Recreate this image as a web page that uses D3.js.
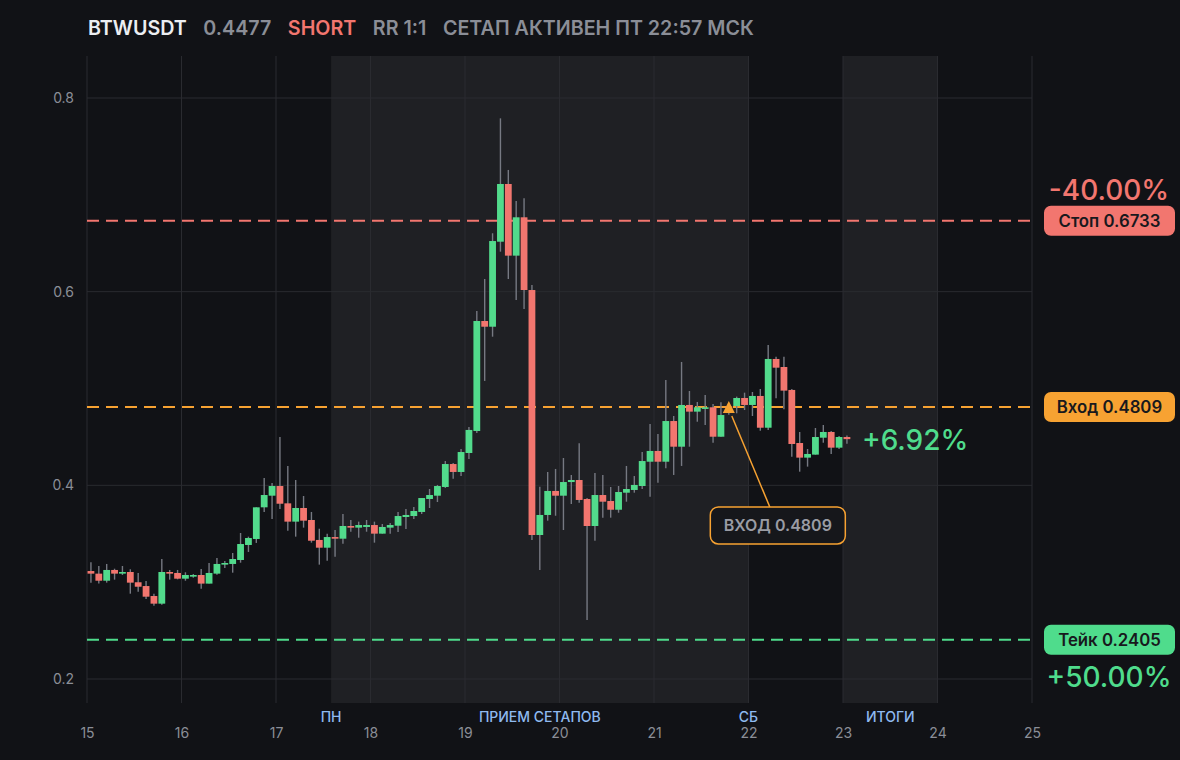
<!DOCTYPE html>
<html><head><meta charset="utf-8">
<script src="https://cdn.jsdelivr.net/npm/d3@7/dist/d3.min.js"></script>
<style>
html,body{margin:0;padding:0;background:#111216;}
svg{display:block;}
</style></head>
<body>
<svg id="c" width="1180" height="760"></svg>
<script>
// ---- DATA ----
const symbol = "BTWUSDT";
const lastPrice = "0.4477";
const side = "SHORT";
const rr = "RR 1:1";
const status = "СЕТАП АКТИВЕН ПТ 22:57 МСК";
const startTime = "2025-03-15T00:00:00Z";   // first 2h candle
const candleHours = 2;
const open  = [0.3115,0.3088,0.3015,0.3126,0.3088,0.3105,0.2999,0.2960,0.2857,0.2778,0.3105,0.3095,0.3036,0.3057,0.3074,0.2985,0.3088,0.3181,0.3188,0.3229,0.3384,0.3446,0.3773,0.3893,0.3993,0.3814,0.3625,0.3766,0.3642,0.3436,0.3356,0.3466,0.3449,0.3580,0.3563,0.3570,0.3590,0.3501,0.3563,0.3583,0.3673,0.3683,0.3725,0.3859,0.3893,0.3983,0.4220,0.4138,0.4334,0.4561,0.5697,0.5638,0.6516,0.7112,0.6372,0.6768,0.6017,0.3487,0.3694,0.3942,0.3893,0.4034,0.4055,0.3859,0.3580,0.3900,0.3838,0.3748,0.3924,0.3952,0.3993,0.4244,0.4355,0.4244,0.4664,0.4399,0.4830,0.4761,0.4789,0.4806,0.4502,0.4815,0.4819,0.4902,0.4830,0.4923,0.4595,0.5305,0.5222,0.4985,0.4437,0.4286,0.4317,0.4492,0.4551,0.4389,0.4499];
const high  = [0.3205,0.3167,0.3188,0.3139,0.3167,0.3133,0.3095,0.3012,0.2881,0.3239,0.3126,0.3126,0.3102,0.3084,0.3136,0.3198,0.3250,0.3219,0.3301,0.3508,0.3470,0.3773,0.4076,0.4024,0.4499,0.4200,0.4055,0.3890,0.3725,0.3552,0.3501,0.3539,0.3704,0.3642,0.3625,0.3642,0.3625,0.3601,0.3611,0.3725,0.3756,0.3776,0.3869,0.3962,0.4004,0.4251,0.4231,0.4375,0.4602,0.5800,0.6131,0.6603,0.7790,0.7257,0.6936,0.6964,0.6069,0.3986,0.4138,0.4169,0.4282,0.4107,0.4434,0.3869,0.4127,0.4107,0.3983,0.3993,0.4200,0.4096,0.4344,0.4633,0.4530,0.5088,0.4716,0.5274,0.4974,0.4861,0.4933,0.4840,0.4857,0.4830,0.4916,0.4957,0.4964,0.4995,0.5449,0.5329,0.5329,0.4995,0.4551,0.4375,0.4592,0.4623,0.4560,0.4510,0.4515];
const low   = [0.2995,0.2985,0.2995,0.3026,0.3074,0.2881,0.2902,0.2826,0.2757,0.2767,0.3026,0.3029,0.3015,0.3046,0.2933,0.2985,0.3077,0.3146,0.3098,0.3201,0.3312,0.3405,0.3725,0.3652,0.3756,0.3532,0.3470,0.3563,0.3408,0.3181,0.3222,0.3263,0.3397,0.3521,0.3459,0.3521,0.3408,0.3501,0.3501,0.3518,0.3549,0.3652,0.3704,0.3766,0.3828,0.3973,0.4069,0.4096,0.4272,0.4541,0.5078,0.5535,0.6413,0.6131,0.5914,0.5821,0.3436,0.3126,0.3635,0.3686,0.3539,0.3807,0.3820,0.2609,0.3428,0.3666,0.3666,0.3717,0.3831,0.3924,0.3962,0.3883,0.4027,0.4176,0.4107,0.4200,0.4399,0.4657,0.4623,0.4440,0.4502,0.4730,0.4744,0.4778,0.4716,0.4564,0.4571,0.4899,0.4785,0.4296,0.4141,0.4193,0.4317,0.4440,0.4324,0.4375,0.4430];
const close = [0.3088,0.3015,0.3126,0.3088,0.3105,0.2995,0.2953,0.2850,0.2778,0.3105,0.3088,0.3036,0.3074,0.3074,0.2985,0.3095,0.3188,0.3198,0.3239,0.3394,0.3456,0.3773,0.3900,0.3993,0.3810,0.3625,0.3766,0.3635,0.3428,0.3356,0.3466,0.3449,0.3580,0.3563,0.3590,0.3590,0.3501,0.3570,0.3590,0.3683,0.3694,0.3735,0.3869,0.3900,0.3993,0.4220,0.4138,0.4344,0.4572,0.5697,0.5638,0.6523,0.7112,0.6372,0.6768,0.6017,0.3487,0.3694,0.3942,0.3893,0.4034,0.4055,0.3849,0.3580,0.3900,0.3831,0.3748,0.3931,0.3962,0.4004,0.4251,0.4355,0.4244,0.4664,0.4399,0.4830,0.4761,0.4806,0.4806,0.4502,0.4726,0.4800,0.4902,0.4830,0.4923,0.4595,0.5305,0.5215,0.4978,0.4427,0.4286,0.4324,0.4499,0.4551,0.4389,0.4499,0.4477];

const yTicks = [0.2, 0.4, 0.6, 0.8];
const xTickDays = ["2025-03-15","2025-03-16","2025-03-17","2025-03-18","2025-03-19","2025-03-20","2025-03-21","2025-03-22","2025-03-23","2025-03-24","2025-03-25"];
const xDomain = ["2025-03-15T00:00:00Z","2025-03-25T00:00:00Z"];

const levelNames  = ["stop","entry","take"];
const levelValues = [0.6733, 0.4809, 0.2405];
const levelLabels = ["Стоп 0.6733","Вход 0.4809","Тейк 0.2405"];
const levelColors = ["#f2766f","#f7a232","#4fdc8c"];
const stopPct = "-40.00%";
const takePct = "+50.00%";
const currentPct = "+6.92%";

const entryTime = "2025-03-21T19:00:00Z";
const entryNote = "ВХОД 0.4809";

const sessionStarts = ["2025-03-17T14:00:00Z","2025-03-23T00:00:00Z"];
const sessionEnds   = ["2025-03-22T00:00:00Z","2025-03-24T00:00:00Z"];
const sessionNames  = ["ПРИЕМ СЕТАПОВ","ИТОГИ"];
const markerTimes   = ["2025-03-17T14:00:00Z","2025-03-22T00:00:00Z"];
const markerNames   = ["ПН","СБ"];

// ---- CHART ----
const svg = d3.select("#c");
const W = 1180, H = 760;
const plot = {left:87, right:1032, top:56, bottom:703};
const UP = "#52db8c", DN = "#f2766f", WICK = "#767982";
const GRID = "#2a2b30", TXT = "#8b8e97";
const FONT = "Inter, 'Noto Sans', sans-serif";

svg.append("rect").attr("width",W).attr("height",H).attr("fill","#111216");

const x = d3.scaleUtc().domain(xDomain.map(d=>new Date(d))).range([plot.left, plot.right]);
const y = d3.scaleLinear().domain([0.2,0.8]).range([679,98]);

const t0 = new Date(startTime).getTime();
const candles = open.map((o,i)=>({
  t: new Date(t0 + i*candleHours*3600e3),
  tm: new Date(t0 + (i+0.5)*candleHours*3600e3),
  o, h: high[i], l: low[i], c: close[i]
}));

// session shading
svg.append("g").selectAll("rect").data(sessionStarts).join("rect")
  .attr("x",(d)=>x(new Date(d)))
  .attr("width",(d,i)=>x(new Date(sessionEnds[i]))-x(new Date(d)))
  .attr("y",plot.top).attr("height",plot.bottom-plot.top)
  .attr("fill","#1f2024");

// grid
const gGrid = svg.append("g");
gGrid.selectAll("line.v").data(xTickDays).join("line")
  .attr("x1",d=>x(new Date(d+"T00:00:00Z"))).attr("x2",d=>x(new Date(d+"T00:00:00Z")))
  .attr("y1",plot.top).attr("y2",plot.bottom).attr("stroke",GRID).attr("stroke-width",1);
gGrid.selectAll("line.h").data(yTicks).join("line")
  .attr("x1",plot.left).attr("x2",plot.right)
  .attr("y1",d=>y(d)).attr("y2",d=>y(d)).attr("stroke",GRID).attr("stroke-width",1);

// y axis labels
const yAxis = d3.axisLeft(y).tickValues(yTicks).tickFormat(d3.format(".1f")).tickSize(0).tickPadding(0);
const gy = svg.append("g").attr("transform",`translate(${plot.left-13},0)`).call(yAxis);
gy.select(".domain").remove();
gy.selectAll("text").attr("fill",TXT).attr("font-family",FONT).attr("font-size",14);

// x axis labels
const xAxis = d3.axisBottom(x).tickValues(xTickDays.map(d=>new Date(d+"T00:00:00Z")))
  .tickFormat(d3.utcFormat("%-d")).tickSize(0).tickPadding(0);
const gx = svg.append("g").attr("transform",`translate(0,728)`).call(xAxis);
gx.select(".domain").remove();
gx.selectAll("text").attr("fill",TXT).attr("font-family",FONT).attr("font-size",14);

// session + marker labels
svg.append("g").selectAll("text").data(sessionNames).join("text")
  .attr("x",(d,i)=>(x(new Date(sessionStarts[i]))+x(new Date(sessionEnds[i])))/2)
  .attr("y",717).attr("dy","0.35em").attr("text-anchor","middle")
  .attr("fill","#8fbaf0").attr("font-family",FONT).attr("font-size",14).attr("font-weight",500)
  .text(d=>d);
svg.append("g").selectAll("text").data(markerNames).join("text")
  .attr("x",(d,i)=>x(new Date(markerTimes[i])))
  .attr("y",717).attr("dy","0.35em").attr("text-anchor","middle")
  .attr("fill","#8fbaf0").attr("font-family",FONT).attr("font-size",14).attr("font-weight",500)
  .text(d=>d);

// level lines
svg.append("g").selectAll("line").data(levelValues).join("line")
  .attr("x1",plot.left).attr("x2",plot.right)
  .attr("y1",d=>y(d)).attr("y2",d=>y(d))
  .attr("stroke",(d,i)=>levelColors[i]).attr("stroke-width",2)
  .attr("stroke-dasharray","12 7");

// candles
const cw = 6.8;
const gC = svg.append("g");
gC.selectAll("line").data(candles).join("line")
  .attr("x1",d=>x(d.tm)).attr("x2",d=>x(d.tm))
  .attr("y1",d=>y(d.h)).attr("y2",d=>y(d.l))
  .attr("stroke",WICK).attr("stroke-width",1.4);
gC.selectAll("rect").data(candles).join("rect")
  .attr("x",d=>x(d.tm)-cw/2).attr("width",cw)
  .attr("y",d=>y(Math.max(d.o,d.c)))
  .attr("height",d=>Math.max(1.5, Math.abs(y(d.o)-y(d.c))))
  .attr("fill",d=>d.c>=d.o?UP:DN);

// entry marker + annotation
const ex = x(new Date(entryTime)), ey = y(levelValues[1]);
const bx = ex + 49, by = ey + 100, bw = 135, bh = 37;
svg.append("line").attr("x1",ex+3).attr("y1",ey+9).attr("x2",bx-8).attr("y2",by)
  .attr("stroke","#f7a232").attr("stroke-width",1.5);
svg.append("path")
  .attr("d",`M${ex},${ey-6} L${ex+6},${ey+6} L${ex-6},${ey+6} Z`)
  .attr("fill","#f7a232");
svg.append("rect").attr("x",bx-bw/2).attr("y",by).attr("width",bw).attr("height",bh)
  .attr("rx",8).attr("fill","#16171b").attr("stroke","#f7a232").attr("stroke-width",1.5);
svg.append("text").attr("x",bx).attr("y",by+bh/2).attr("dy","0.36em").attr("text-anchor","middle")
  .attr("fill","#9a9ca4").attr("font-family",FONT).attr("font-size",16).attr("font-weight",600)
  .text(entryNote);

// right level pills
const pillX = 1044, pillW = 131, pillH = 30;
const pills = svg.append("g").selectAll("g").data(levelValues).join("g");
pills.append("rect").attr("x",pillX).attr("width",pillW).attr("height",pillH)
  .attr("y",d=>y(d)-pillH/2).attr("rx",7).attr("fill",(d,i)=>levelColors[i]);
pills.append("text").attr("x",pillX+pillW/2).attr("y",d=>y(d)).attr("dy","0.36em")
  .attr("text-anchor","middle").attr("fill","#18191d")
  .attr("font-family",FONT).attr("font-size",16.8).attr("font-weight",600)
  .text((d,i)=>levelLabels[i]);

// percentage texts
svg.append("text").attr("x",1109).attr("y",y(levelValues[0])-31).attr("dy","0.36em")
  .attr("text-anchor","middle").attr("fill",levelColors[0]).attr("font-family",FONT)
  .attr("font-size",28).attr("font-weight",500).text(stopPct);
svg.append("text").attr("x",1109).attr("y",y(levelValues[2])+37).attr("dy","0.36em")
  .attr("text-anchor","middle").attr("fill",levelColors[2]).attr("font-family",FONT)
  .attr("font-size",28).attr("font-weight",500).text(takePct);
const last = candles[candles.length-1];
svg.append("text").attr("x",x(last.tm)+15).attr("y",y(last.c)+1).attr("dy","0.36em")
  .attr("fill",levelColors[2]).attr("font-family",FONT)
  .attr("font-size",28).attr("font-weight",500).text(currentPct);

// title
const titleParts = [symbol, lastPrice, side, rr, status];
const titleColors = ["#eceef2", TXT, DN, TXT, TXT];
let tx = 88;
const gT = svg.append("g");
titleParts.forEach((s,i)=>{
  const t = gT.append("text").attr("x",tx).attr("y",28).attr("dy","0.36em")
    .attr("fill",titleColors[i]).attr("font-family",FONT).attr("font-size",19.7).attr("font-weight",600)
    .text(s);
  tx += t.node().getComputedTextLength() + 16.5;
});
</script>
</body></html>
